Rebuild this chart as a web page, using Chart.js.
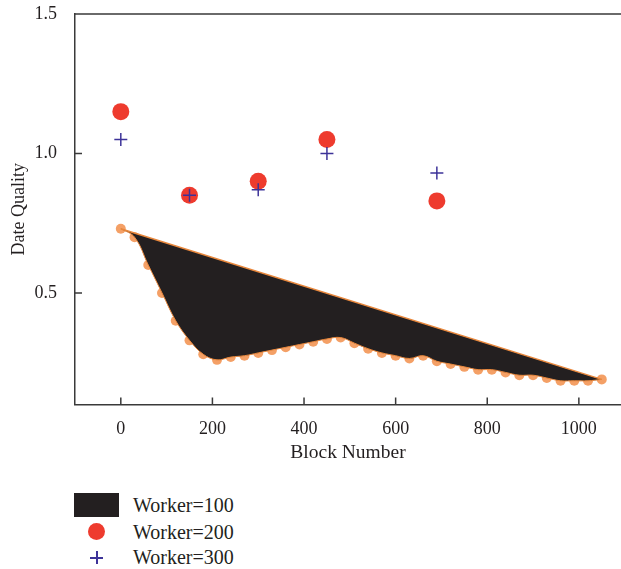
<!DOCTYPE html>
<html>
<head>
<meta charset="utf-8">
<script src="https://cdn.jsdelivr.net/npm/chart.js@4"></script>
<style>
  body{margin:0;background:#fff;}
  #wrap{position:relative;width:621px;height:569px;overflow:hidden;}
  #box{position:absolute;left:0;top:0;width:621px;height:470px;}
  .legend{position:absolute;left:0;top:0;font-family:"Liberation Serif","DejaVu Serif",serif;font-size:20px;color:#231f20;}
  .row{position:absolute;left:74px;height:24px;width:200px;}
  .row span{position:absolute;left:59px;top:50%;transform:translateY(-50%);white-space:nowrap;}
  .swatch{position:absolute;}
</style>
</head>
<body>
<div id="wrap">
  <div id="box"><canvas id="chart"></canvas></div>
  <div class="legend">
    <div class="row" style="top:493px"><div class="swatch" style="left:0;top:0;width:45px;height:24px;background:#231f20"></div><span>Worker=100</span></div>
    <div class="row" style="top:520px"><div class="swatch" style="left:14px;top:3px;width:17px;height:17px;border-radius:50%;background:#ee3b2e"></div><span>Worker=200</span></div>
    <div class="row" style="top:545px"><div class="swatch" style="left:16px;top:6px;width:13px;height:13px;">
      <div style="position:absolute;left:0;top:6px;width:13px;height:1.5px;background:#3d3399"></div>
      <div style="position:absolute;left:6px;top:0;width:1.5px;height:13px;background:#3d3399"></div>
    </div><span>Worker=300</span></div>
  </div>
</div>
<script>
// Worker=100: straight upper edge and lower curve
const lineX = [0, 1050];
const lineY = [0.73, 0.19];
const curveX = [0,30,60,90,120,150,180,210,240,270,300,330,360,390,420,450,480,510,
                540,570,600,630,660,690,720,750,780,810,840,870,900,930,960,990,1020,1050];
const curveY = [0.73,0.70,0.60,0.50,0.40,0.33,0.28,0.26,0.27,0.275,0.285,0.295,0.305,0.315,0.325,0.335,0.34,0.32,
                0.30,0.285,0.275,0.265,0.275,0.255,0.245,0.235,0.225,0.225,0.215,0.205,0.205,0.195,0.185,0.185,0.185,0.19];

// Worker=200 / Worker=300
const blockX = [0, 150, 300, 450, 690];
const w200 = [1.15, 0.85, 0.90, 1.05, 0.83];
const w300 = [1.05, 0.85, 0.87, 1.00, 0.93];

const xTicks = [0, 200, 400, 600, 800, 1000];
const yTicks = [0.5, 1.0, 1.5];

const pts = (xs, ys) => xs.map((x, i) => ({x, y: ys[i]}));
const FONT = '"Liberation Serif","DejaVu Serif",serif';
const AXIS = '#3a3a3a';

// inward tick marks + top border
const frame = {
  id: 'frame',
  afterDraw(chart){
    const {ctx, chartArea: a, scales: {x, y}} = chart;
    ctx.save();
    ctx.strokeStyle = AXIS;
    ctx.lineWidth = 1.5;
    ctx.beginPath();
    ctx.moveTo(a.left, a.top);
    ctx.lineTo(a.right, a.top);
    xTicks.forEach(v=>{
      const px = x.getPixelForValue(v);
      ctx.moveTo(px, a.bottom);
      ctx.lineTo(px, a.bottom - 7);
    });
    yTicks.forEach(v=>{
      const py = y.getPixelForValue(v);
      ctx.moveTo(a.left, py);
      ctx.lineTo(a.left + 7, py);
    });
    ctx.stroke();
    ctx.restore();
  }
};

new Chart(document.getElementById('chart'), {
  type: 'scatter',
  data: {
    datasets: [
      {
        type: 'line',
        label: 'top',
        data: pts(lineX, lineY),
        borderColor: '#e8873c',
        borderWidth: 1.5,
        pointRadius: 0,
        fill: false,
        order: 2
      },
      {
        type: 'line',
        label: 'Worker=100',
        data: pts(curveX, curveY),
        borderColor: '#e8873c',
        borderWidth: 1,
        backgroundColor: '#231f20',
        tension: 0.4,
        pointRadius: 0,
        fill: 0,
        order: 2.5
      },
      {
        label: 'dots',
        data: pts(curveX, curveY),
        backgroundColor: '#f4a066',
        borderWidth: 0,
        pointRadius: 5,
        order: 3
      },
      {
        label: 'Worker=200',
        data: pts(blockX, w200),
        backgroundColor: '#ee3b2e',
        borderWidth: 0,
        pointRadius: 8.5,
        order: 1
      },
      {
        label: 'Worker=300',
        data: pts(blockX, w300),
        pointStyle: 'cross',
        borderColor: '#3d3399',
        borderWidth: 1.5,
        pointRadius: 6.5,
        order: 0
      }
    ]
  },
  options: {
    responsive: true,
    maintainAspectRatio: false,
    animation: false,
    layout: {autoPadding: false, padding: {top: 14, right: 0, left: 0, bottom: 0}},
    plugins: {legend: {display: false}, tooltip: {enabled: false}},
    scales: {
      x: {
        type: 'linear',
        min: -100,
        max: 1092,
        afterBuildTicks: s => { s.ticks = xTicks.map(v => ({value: v})); },
        afterFit: s => { s.height = 65.5; s.paddingLeft = 0; s.paddingRight = 0; },
        grid: {display: false},
        border: {display: true, color: AXIS, width: 1.5},
        ticks: {color: '#231f20', font: {family: FONT, size: 18}, padding: 6, maxRotation: 0, callback: v => String(v)},
        title: {display: true, text: 'Block Number', color: '#231f20', font: {family: FONT, size: 19.5}, padding: {bottom: 5}}
      },
      y: {
        min: 0.1,
        max: 1.5,
        afterBuildTicks: s => { s.ticks = yTicks.map(v => ({value: v})); },
        afterFit: s => { s.width = 75; s.paddingTop = 0; s.paddingBottom = 0; },
        grid: {display: false},
        border: {display: true, color: AXIS, width: 1.5},
        ticks: {color: '#231f20', font: {family: FONT, size: 18}, padding: 10, callback: v => v.toFixed(1)},
        title: {display: true, text: 'Date Quality', color: '#231f20', font: {family: FONT, size: 18}, padding: {top: 8}}
      }
    }
  },
  plugins: [frame]
});
</script>
</body>
</html>
